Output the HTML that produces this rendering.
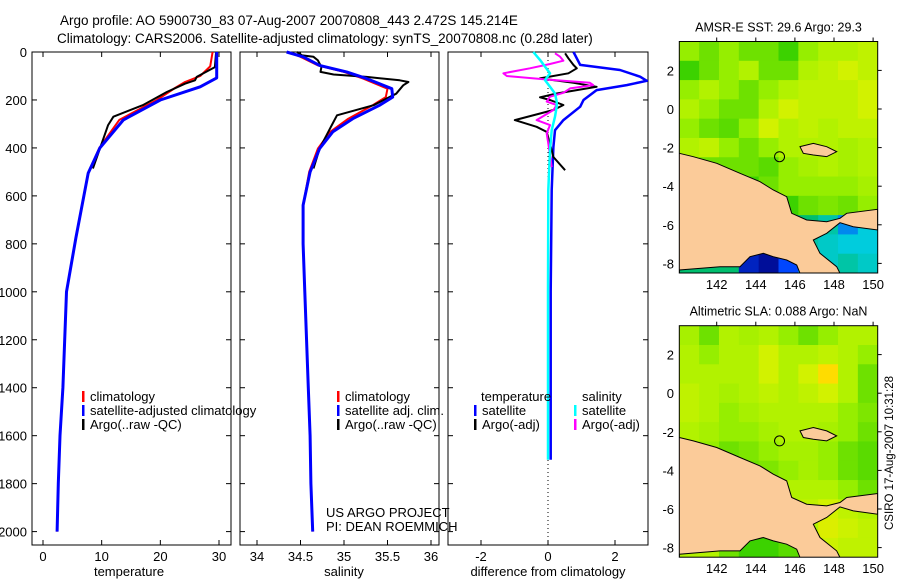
<!DOCTYPE html>
<html><head><meta charset="utf-8"><style>
body{margin:0;background:#fff;}
svg text{font-family:"Liberation Sans",sans-serif;fill:#000;}
</style></head><body>
<svg id="s" width="900" height="580" viewBox="0 0 900 580" xmlns="http://www.w3.org/2000/svg">
<text x="60" y="25" font-size="13.5">Argo profile: AO 5900730_83 07-Aug-2007 20070808_443 2.472S 145.214E</text>
<text x="57" y="43" font-size="13.5">Climatology: CARS2006. Satellite-adjusted climatology: synTS_20070808.nc (0.28d later)</text>
<g id="g"></g>
</svg>
<script>
// ---- data ----
const climDepth=[0,60,100,125,150,200,283,400,505,775,1000,1400,1600,1800,2000];
const climTemp=[28.9,28.5,26.8,24.2,22.5,19.4,13,9.6,7.7,5.6,4.0,3.4,2.9,2.6,2.4];
const satDepth=[0,108,145,200,283,400,505,775,1000,1400,1600,1800,2000];
const satTemp=[29.6,29.6,26.8,20,13.7,9.7,7.7,5.6,4.0,3.4,2.9,2.6,2.4];
const argoDepth=[0,63,104,118,132,167,222,270,305,403,486];
const argoTemp=[29.5,29.3,26.2,25.9,24.2,21.1,17,12,11.1,9.7,8.5];
const salDepth=[0,20,56,83,111,153,188,222,278,333,403,500,639,800,1000,1400,1600,1800,2000];
const satSal=[34.34,34.53,34.72,35.03,35.26,35.55,35.56,35.41,35.1,34.87,34.72,34.61,34.53,34.53,34.55,34.59,34.61,34.62,34.64];
const climSal=[34.36,34.5,34.7,35.0,35.22,35.5,35.48,35.33,35.05,34.84,34.7,34.6,34.53,34.53,34.55,34.59,34.61,34.62,34.64];
const argoSalDepth=[0,14,20,35,63,83,94,104,118,125,139,174,222,264,305,403,486];
const argoSal=[34.46,34.52,34.65,34.7,34.74,34.73,34.88,35.26,35.64,35.74,35.68,35.6,35.34,34.92,34.86,34.72,34.65];
const dTSatDepth=[0,54,75,103,120,138,159,200,228,284,326,396,576,1000,1700];
const dTSat=[0.76,0.96,2.15,2.75,2.95,2.35,1.45,1.06,0.96,0.46,0.21,0.16,0.11,0.08,0.08];
const dSSatDepth=[0,33,61,89,117,145,173,207,228,270,326,410,576,1000,1700];
const dSSat=[-0.44,-0.24,-0.09,0.06,-0.09,0.06,0.21,0.26,0.26,0.21,0.11,0.06,0.01,0,0];
const dSArgoDepth=[5.6,19.5,36.1,50,68.1,89,100,114.5,128.5,138,152,170,186.5,207,221,242,284,305,340,382,480];
const dSArgo=[0.21,0.36,0.46,0.06,-0.54,-1.33,-1.23,-0.04,1.25,1.35,0.66,0.46,0.06,-0.04,0.26,0.16,-0.34,0.06,-0.04,0.01,0.11];
const dTArgoDepth=[5.6,26.4,54.2,68.1,89,110,128.5,145,159,173,189,200,221,242,284,312,333,410,438,493];
const dTArgo=[0.51,0.61,0.76,0.86,0.61,-0.24,0.76,1.45,0.86,0.26,-0.24,0.06,0.46,0.16,-0.99,-0.34,-0.04,0.11,0.16,0.51];
const depthTicks=[0,200,400,600,800,1000,1200,1400,1600,1800,2000];
const tempTicks=[0,10,20,30];
const salTicks=[34,34.5,35,35.5,36];
const diffTicks=[-2,0,2];
const latTicks=[2,0,-2,-4,-6,-8];
const lonTicks=[142,144,146,148,150];
const sstGrid=[
[0.55,0.5,0.55,0.5,0.5,0.45,0.55,0.6,0.6,0.62],
[0.45,0.5,0.55,0.6,0.5,0.5,0.6,0.62,0.65,0.62],
[0.55,0.6,0.55,0.5,0.55,0.6,0.62,0.62,0.62,0.65],
[0.6,0.55,0.5,0.5,0.6,0.65,0.62,0.62,0.62,0.65],
[0.55,0.5,0.48,0.55,0.65,0.6,0.62,0.6,0.62,0.62],
[0.6,0.62,0.55,0.5,0.55,0.6,0.6,0.6,0.58,0.6],
[0.55,0.5,0.5,0.5,0.48,0.55,0.58,0.6,0.58,0.6],
[0.5,0.5,0.45,0.45,0.5,0.55,0.55,0.55,0.55,0.58],
[0.45,0.45,0.42,0.42,0.42,0.45,0.5,0.52,0.5,0.55],
[0.4,0.4,0.4,0.4,0.4,0.4,0.4,0.35,0.25,0.3],
[0.4,0.4,0.4,0.4,0.3,0.35,0.35,0.32,0.3,0.3],
[0.4,0.4,0.4,0.15,0.12,0.2,0.3,0.32,0.35,0.32]];
const slaGrid=[
[0.58,0.5,0.6,0.58,0.6,0.55,0.5,0.55,0.6,0.6],
[0.6,0.55,0.6,0.6,0.65,0.6,0.6,0.62,0.6,0.55],
[0.6,0.6,0.6,0.6,0.65,0.6,0.65,0.7,0.6,0.5],
[0.62,0.6,0.58,0.6,0.62,0.6,0.62,0.65,0.6,0.5],
[0.62,0.6,0.55,0.58,0.6,0.6,0.6,0.6,0.55,0.52],
[0.6,0.58,0.55,0.55,0.58,0.6,0.6,0.58,0.55,0.5],
[0.58,0.55,0.5,0.52,0.55,0.58,0.58,0.55,0.5,0.48],
[0.55,0.52,0.5,0.5,0.52,0.55,0.58,0.55,0.5,0.48],
[0.55,0.55,0.52,0.5,0.55,0.6,0.6,0.6,0.55,0.5],
[0.6,0.6,0.58,0.55,0.58,0.6,0.62,0.65,0.62,0.6],
[0.6,0.6,0.55,0.5,0.48,0.5,0.6,0.66,0.64,0.62],
[0.6,0.6,0.5,0.45,0.45,0.48,0.6,0.64,0.62,0.62]];
const landPts=[[118,460],[160,470],[230,490],[300,520],[360,545],[400,570],[440,590],[455,640],[500,660],[560,665],[600,655],[620,640],[713,628],[713,690],[640,680],[600,668],[560,700],[520,720],[540,760],[590,800],[600,820],[480,820],[470,795],[440,780],[400,770],[370,760],[330,770],[300,800],[240,800],[118,810]];

// ---- helpers ----
const NS='http://www.w3.org/2000/svg';
const G=document.getElementById('g');
function mk(tag,attrs,parent){const e=document.createElementNS(NS,tag);for(const k in attrs)e.setAttribute(k,attrs[k]);(parent||G).appendChild(e);return e;}
const TOP=52,BOT=545;
const yD=z=>TOP+z*0.2398;
const xT=t=>43+t*5.867, xS=s=>257+(s-34)*87, xDf=d=>548+d*33.5;
function panel(x0,x1,name){
  const r=mk('rect',{x:x0,y:TOP,width:x1-x0,height:BOT-TOP,fill:'none',stroke:'#000','stroke-width':1});
  
  
  depthTicks.forEach(d=>{const y=yD(d);
    mk('line',{x1:x0,x2:x0+5,y1:y,y2:y,stroke:'#000'});
    mk('line',{x1:x1-5,x2:x1,y1:y,y2:y,stroke:'#000'});});
}
function xticks(ticks,fx,x0,x1,name,label,lx){
  ticks.forEach(t=>{const x=fx(t);
    mk('line',{x1:x,x2:x,y1:TOP,y2:TOP+5,stroke:'#000'});
    mk('line',{x1:x,x2:x,y1:BOT-5,y2:BOT,stroke:'#000'});
    const tx=mk('text',{x:x,y:561,'font-size':13,'text-anchor':'middle'});tx.textContent=String(t);
    
    });
  const l=mk('text',{x:lx,y:576,'font-size':13,'text-anchor':'middle'});l.textContent=label;
  
  
}
function line(xs,ds,fx,color,w,name){
  const p=xs.map((v,i)=>fx(v).toFixed(1)+','+yD(ds[i]).toFixed(1)).join(' ');
  const e=mk('polyline',{points:p,fill:'none',stroke:color,'stroke-width':w,'stroke-linejoin':'round'});
  
  
}
function legend(x,y,color,label,name){
  if(color){mk('rect',{x:x-8,y:y-10,width:2.5,height:11,fill:color});}
  const t=mk('text',{x:x,y:y,'font-size':13});t.textContent=label;
  
  
}

// ---- panel 1 temperature ----
panel(32,231,'temperature-panel');
depthTicks.forEach(d=>{const t=mk('text',{x:27,y:yD(d)+5,'font-size':13,'text-anchor':'end'});t.textContent=d;
  
  });
xticks(tempTicks,xT,32,231,'temperature','temperature',129);
line(climTemp,climDepth,xT,'#f00',2,'climatology-temperature-line');
line(argoTemp,argoDepth,xT,'#000',2,'argo-temperature-line');
line(satTemp,satDepth,xT,'#00f',3,'satellite-temperature-line');
legend(90,401,'#f00','climatology','legend-climatology');
legend(90,415,'#00f','satellite-adjusted climatology','legend-satellite-adjusted');
legend(90,429,'#000','Argo(..raw -QC)','legend-argo');

// ---- panel 2 salinity ----
panel(240,439,'salinity-panel');
xticks(salTicks,xS,240,439,'salinity','salinity',344);
line(climSal,salDepth,xS,'#f00',2,'climatology-salinity-line');
line(argoSal,argoSalDepth,xS,'#000',2,'argo-salinity-line');
line(satSal,salDepth,xS,'#00f',3,'satellite-salinity-line');
legend(345,401,'#f00','climatology','legend-sal-climatology');
legend(345,415,'#00f','satellite adj. clim.','legend-sal-satellite');
legend(345,429,'#000','Argo(..raw -QC)','legend-sal-argo');

// ---- panel 3 differences ----
panel(448,648,'difference-panel');
xticks(diffTicks,xDf,448,648,'difference','difference from climatology',548);
mk('line',{x1:xDf(0),x2:xDf(0),y1:TOP,y2:BOT,stroke:'#000','stroke-dasharray':'1,3'});
line(dTSat,dTSatDepth,xDf,'#00f',2.5,'temp-satellite-diff-line');
line(dTArgo,dTArgoDepth,xDf,'#000',2,'temp-argo-diff-line');
line(dSArgo,dSArgoDepth,xDf,'#f0f',2,'sal-argo-diff-line');
line(dSSat,dSSatDepth,xDf,'#0ff',2.5,'sal-satellite-diff-line');
legend(481,401,null,'temperature','legend-temperature-head');
legend(482,415,'#00f','satellite','legend-temp-satellite');
legend(482,429,'#000','Argo(-adj)','legend-temp-argo');
legend(582,401,null,'salinity','legend-salinity-head');
legend(582,415,'#0ff','satellite','legend-sal-sat');
legend(582,429,'#f0f','Argo(-adj)','legend-sal-argo-diff');
legend(326,517,null,'US ARGO PROJECT','project-credit');
legend(326,531,null,'PI: DEAN ROEMMICH','pi-credit');

// ---- maps ----
const stops=[[0.1,[0,0,128]],[0.2,[0,70,255]],[0.3,[0,204,221]],[0.4,[0,190,110]],[0.45,[60,210,0]],[0.5,[110,225,0]],[0.55,[150,238,0]],[0.6,[178,242,0]],[0.65,[210,242,0]],[0.7,[255,220,0]],[0.8,[255,140,0]]];
function col(v){for(let i=0;i<stops.length-1;i++){const a=stops[i],b=stops[i+1];if(v<=b[0]){const f=Math.max(0,(v-a[0])/(b[0]-a[0]));return 'rgb('+a[1].map((c,k)=>Math.round(c+(b[1][k]-c)*f)).join(',')+')';}}return 'rgb(255,140,0)';}
function map(top,grid,title,name,idx){
  const L=679.3,R=877.7,B=top+231.5;
  const lonX=lon=>716.7+(lon-142)*19.55, latY=lat=>top+67.5-lat*19.3;
  const cid='clip'+idx;
  const cp=mk('clipPath',{id:cid});mk('rect',{x:L,y:top,width:R-L,height:B-top},cp);
  const g=mk('g',{'clip-path':'url(#'+cid+')'});
  
  
  const cw=(R-L)/10,ch=(B-top)/12;
  grid.forEach((row,r)=>row.forEach((v,c)=>{mk('rect',{x:L+c*cw,y:top+r*ch,width:cw+0.6,height:ch+0.6,fill:col(v)},g);}));
  const off=top-41.5;
  const pts=landPts.map(p=>(640+p[0]/3).toFixed(1)+','+(p[1]/3+off).toFixed(1));
  const land=mk('polygon',{points:pts.join(' ')+' 679.3,'+(B+2)+' 600,'+(B+2),fill:'#fbcb99',stroke:'#000','stroke-width':1},g);
  
  
  mk('polygon',{points:[[480,440],[520,430],[560,440],[590,455],[560,470],[520,465],[490,460]].map(p=>(640+p[0]/3)+','+(p[1]/3+off)).join(' '),fill:'#fbcb99',stroke:'#000','stroke-width':1},g);
  const ci=mk('circle',{cx:lonX(145.214),cy:latY(-2.472),r:5,fill:'none',stroke:'#000'},g);
  
  
  mk('rect',{x:L,y:top,width:R-L,height:B-top,fill:'none',stroke:'#000'});
  latTicks.forEach(l=>{const y=latY(l);mk('line',{x1:R,x2:R+4,y1:y,y2:y,stroke:'#000'});
    const t=mk('text',{x:674,y:y+5,'font-size':13,'text-anchor':'end'});t.textContent=l;
    
    });
  lonTicks.forEach(l=>{const x=lonX(l);mk('line',{x1:x,x2:x,y1:top-4,y2:top,stroke:'#000'});
    const t=mk('text',{x:x,y:B+16,'font-size':13,'text-anchor':'middle'});t.textContent=l;
    
    });
  const tt=mk('text',{x:(L+R)/2,y:top-10,'font-size':12.5,'text-anchor':'middle'});tt.textContent=title;
  
  
}
map(41.5,sstGrid,'AMSR-E SST: 29.6 Argo: 29.3','sst-map',1);
map(325.7,slaGrid,'Altimetric SLA: 0.088 Argo: NaN','sla-map',2);
const st=mk('text',{x:0,y:0,'font-size':11.5,'text-anchor':'middle',transform:'translate(893,453) rotate(-90)'});
st.textContent='CSIRO 17-Aug-2007 10:31:28';


</script>
</body></html>
